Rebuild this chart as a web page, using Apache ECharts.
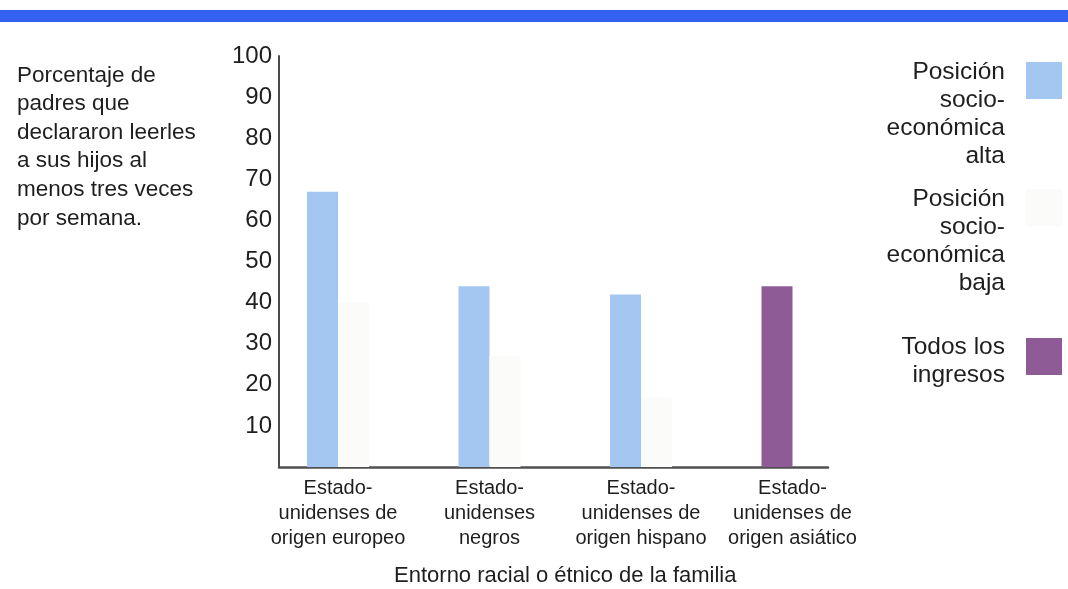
<!DOCTYPE html>
<html>
<head>
<meta charset="utf-8">
<script src="https://cdn.jsdelivr.net/npm/echarts@6/dist/echarts.min.js"></script>
<style>
  html, body { margin: 0; padding: 0; background: #ffffff; }
  #chart { width: 1068px; height: 589px; }
</style>
</head>
<body>
<div id="chart"></div>
<script>
// Categories (family background) and series values, in percent
const categories = [
  'Estado-\nunidenses de\norigen europeo',
  'Estado-\nunidenses\nnegros',
  'Estado-\nunidenses de\norigen hispano',
  'Estado-\nunidenses de\norigen asiático'
];
const altaValues  = [67, 44, 42, null];
const bajaValues  = [40, 27, 17, null];
const todosValues = [null, null, null, 44];

const seriesNames = {
  alta: 'Posición socio-económica alta',
  baja: 'Posición socio-económica baja',
  todos: 'Todos los ingresos'
};
const legendLabels = {
  'Posición socio-económica alta': 'Posición\nsocio-\neconómica\nalta',
  'Posición socio-económica baja': 'Posición\nsocio-\neconómica\nbaja',
  'Todos los ingresos': 'Todos los\ningresos'
};
const yTitle = 'Porcentaje de\npadres que\ndeclararon leerles\na sus hijos al\nmenos tres veces\npor semana.';
const xTitle = 'Entorno racial o étnico de la familia';

const FONT = '"Liberation Sans", Arial, Helvetica, sans-serif';
const TEXT = '#1e1e1e';
const COLORS = { alta: '#a3c7f0', baja: '#fbfcfa', todos: '#8f5b96' };

const chart = echarts.init(document.getElementById('chart'), null, { renderer: 'canvas' });

// One legend block per series: the swatch sits next to the first line(s)
// of a right-aligned, multi-line label. The icon path spans the full text
// height so the square itself is drawn near the top of the block.
function legendFor(name, top, blockHeight, swatchOffset) {
  const icon = 'path://M0,0M0,' + swatchOffset + 'h36v37h-36zM36,' + blockHeight;
  return {
    data: [name],
    right: 6,
    top: top,
    padding: 0,
    align: 'right',
    orient: 'vertical',
    icon: icon,
    symbolKeepAspect: false,
    itemWidth: 36,
    itemHeight: blockHeight,
    selectedMode: false,
    formatter: n => legendLabels[n],
    textStyle: {
      fontFamily: FONT,
      fontSize: 24.5,
      lineHeight: 28,
      color: TEXT,
      padding: [0, 16, 0, 0]
    }
  };
}

chart.setOption({
  animation: false,
  backgroundColor: '#ffffff',
  title: {
    text: yTitle,
    left: 17,
    top: 61,
    padding: 0,
    textStyle: {
      fontFamily: FONT,
      fontSize: 22.5,
      fontWeight: 'normal',
      lineHeight: 28.6,
      color: TEXT
    }
  },
  graphic: [
    {
      type: 'rect',
      left: 0,
      top: 10,
      shape: { width: 1068, height: 12 },
      style: { fill: '#3262ef' },
      silent: true
    }
  ],
  legend: [
    legendFor(seriesNames.alta, 58, 112, 4),
    legendFor(seriesNames.baja, 185, 112, 4),
    legendFor(seriesNames.todos, 333, 56, 5)
  ],
  grid: [
    // frame holding the drawn axes
    { left: 279, right: 240, top: 56, bottom: 122, outerBoundsMode: 'none' },
    // plotting area for the bars and category labels
    { left: 262.25, right: 199.75, top: 56, bottom: 122, outerBoundsMode: 'none' }
  ],
  xAxis: [
    {
      gridIndex: 0,
      type: 'category',
      data: categories,
      axisLine: { show: true, lineStyle: { color: '#505050', width: 2.5 } },
      axisTick: { show: false },
      axisLabel: { show: false },
      splitLine: { show: false }
    },
    {
      gridIndex: 1,
      type: 'category',
      data: categories,
      axisLine: { show: false },
      axisTick: { show: false },
      splitLine: { show: false },
      axisLabel: {
        interval: 0,
        margin: 9,
        fontFamily: FONT,
        fontSize: 20,
        lineHeight: 25,
        color: TEXT,
        align: 'center'
      },
      name: xTitle,
      nameLocation: 'middle',
      nameGap: 98,
      nameTextStyle: {
        fontFamily: FONT,
        fontSize: 22,
        color: TEXT
      }
    }
  ],
  yAxis: [
    {
      gridIndex: 0,
      type: 'value',
      min: 0,
      max: 100,
      interval: 10,
      axisLine: { show: true, lineStyle: { color: '#4a4a4a', width: 2 } },
      axisTick: { show: false },
      splitLine: { show: false },
      axisLabel: {
        margin: 7,
        fontFamily: FONT,
        fontSize: 24,
        color: TEXT,
        formatter: v => (v === 0 ? '' : String(v))
      }
    },
    {
      gridIndex: 1,
      type: 'value',
      min: 0,
      max: 100,
      interval: 10,
      show: false
    }
  ],
  series: [
    {
      name: seriesNames.alta,
      type: 'bar',
      xAxisIndex: 1,
      yAxisIndex: 1,
      stack: 'grupo',
      data: altaValues,
      barWidth: 31,
      barGap: '0%',
      itemStyle: { color: COLORS.alta }
    },
    {
      name: seriesNames.baja,
      type: 'bar',
      xAxisIndex: 1,
      yAxisIndex: 1,
      data: bajaValues,
      barWidth: 31,
      barGap: '0%',
      itemStyle: { color: COLORS.baja }
    },
    {
      name: seriesNames.todos,
      type: 'bar',
      xAxisIndex: 1,
      yAxisIndex: 1,
      stack: 'grupo',
      data: todosValues,
      barWidth: 31,
      barGap: '0%',
      itemStyle: { color: COLORS.todos }
    }
  ]
});
</script>
</body>
</html>
